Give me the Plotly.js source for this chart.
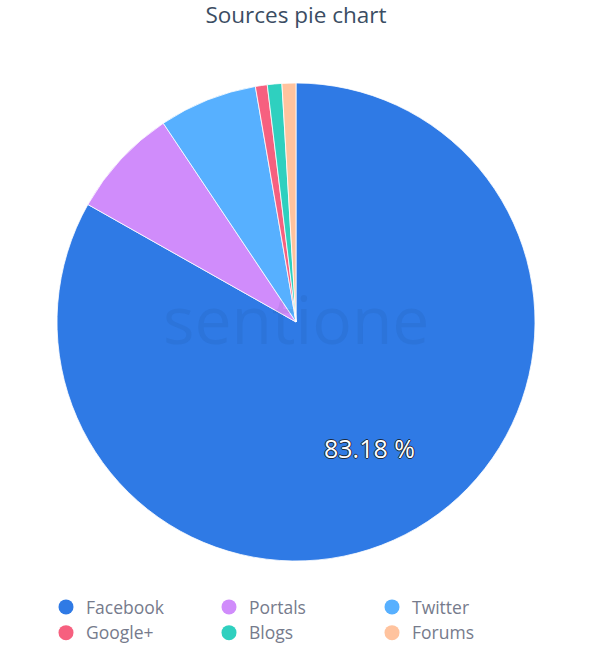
<!DOCTYPE html>
<html>
<head>
<meta charset="utf-8">
<script src="https://cdn.plot.ly/plotly-3.0.1.min.js"></script>
<style>html,body{margin:0;padding:0;background:#fff;}#chart{width:592px;height:656px;}</style>
</head>
<body>
<div id="chart"></div>
<script>
const sources = ["Facebook", "Portals", "Twitter", "Google+", "Blogs", "Forums"];
const shares = [83.18, 7.45, 6.65, 0.80, 0.98, 0.94];
const sliceColors = ["#2f7ae5", "#d08cfb", "#57b0ff", "#f6607f", "#2fd0bf", "#ffc39e"];
const shownLabel = "83.18 %";

const W = 592, H = 656;
const cx = 296, cy = 322, R = 239;

const pie = {
  type: "pie",
  labels: sources,
  values: shares,
  textinfo: "none",
  hoverinfo: "label+percent",
  sort: false,
  direction: "clockwise",
  rotation: 0,
  showlegend: false,
  marker: {colors: sliceColors, line: {color: "#ffffff", width: 0.8}},
  domain: {x: [(cx - R) / W, (cx + R) / W], y: [1 - (cy + R) / H, 1 - (cy - R) / H]}
};

const legendTraces = sources.map((s, i) => ({
  type: "scatter",
  mode: "markers",
  x: [null], y: [null],
  name: s,
  marker: {color: sliceColors[i], size: 15, symbol: "circle"},
  showlegend: true,
  hoverinfo: "skip"
}));

// label for the first slice, placed along its bisector
const total = shares.reduce((a, b) => a + b, 0);
const midAng = (shares[0] / 2) / total * 2 * Math.PI;
const lx = cx + 0.61 * R * Math.sin(midAng);
const ly = cy - 0.61 * R * Math.cos(midAng);

const layout = {
  width: W,
  height: H,
  margin: {l: 0, r: 0, t: 0, b: 0, autoexpand: false},
  paper_bgcolor: "#ffffff",
  plot_bgcolor: "#ffffff",
  title: {text: "Sources pie chart", x: 0.5, xanchor: "center", y: 1 - 15/H, yanchor: "middle",
    font: {family: "Open Sans, sans-serif", size: 22.5, color: "#3b4d63"}},
  xaxis: {visible: false},
  yaxis: {visible: false},
  showlegend: true,
  legend: {
    orientation: "h",
    x: 46/W, xanchor: "left",
    y: 1 - 589/H, yanchor: "top",
    entrywidth: 118,
    entrywidthmode: "pixels",
    font: {family: "Open Sans, sans-serif", size: 17.5, color: "#767b8c"},
    itemclick: false,
    tracegroupgap: 0
  },
  annotations: [{
    text: "sentione", x: 296/W, y: 1 - 318/H, xref: "paper", yref: "paper",
    xanchor: "center", yanchor: "middle",
    showarrow: false, font: {family: "Open Sans, sans-serif", size: 66, color: "rgba(20,40,90,0.07)"}
  }, {
    text: shownLabel, x: lx / W, y: 1 - ly / H, xref: "paper", yref: "paper",
    xanchor: "center", yanchor: "middle",
    showarrow: false,
    font: {family: "Open Sans, sans-serif", size: 25, color: "#ffffff",
      shadow: "-1px 0 0 #1d2a3a, 1px 0 0 #1d2a3a, 0 -1px 0 #1d2a3a, 0 1px 0 #1d2a3a"}
  }]
};

Plotly.newPlot("chart", [pie].concat(legendTraces), layout, {displayModeBar: false, staticPlot: true});
</script>
</body>
</html>
